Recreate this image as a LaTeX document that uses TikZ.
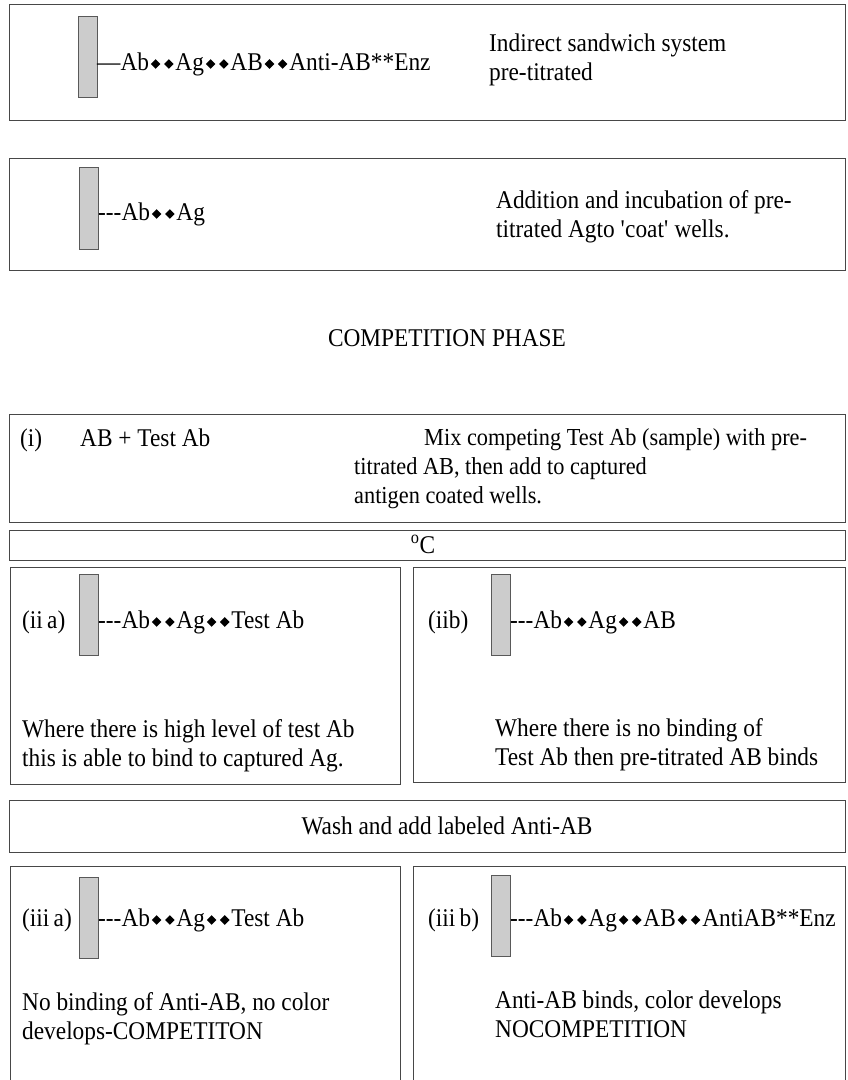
\documentclass[tikz,border=0pt]{standalone}
\usepackage{fontspec}
\setmainfont{Liberation Serif}[FakeStretch=0.915]
\newcommand{\dm}{\hspace{1.8pt}\raisebox{1.2pt}{\rotatebox{45}{\rule{6.8pt}{6.8pt}}}\hspace{1.8pt}}
\begin{document}
\begin{tikzpicture}[x=1pt,y=-1pt,
  panel/.style={draw=black!72, line width=0.9pt},
  well/.style={draw=black!65, fill=black!20, line width=0.8pt},
  txt/.style={anchor=base west, inner sep=0pt, align=left, font=\fontsize{25.5}{29}\selectfont},
  ctxt/.style={anchor=base, inner sep=0pt, font=\fontsize{25.5}{29}\selectfont},
  smalltxt/.style={txt, font=\fontsize{24.4}{29}\selectfont}]
\useasboundingbox (0,0) rectangle (847,1080);
\fill[white] (0,0) rectangle (847,1080);

% outer panels
\draw[panel] (9,4) rectangle (845,120) coordinate (p1);
\draw[panel] (9,158) rectangle (845,270) coordinate (p2);
\draw[panel] (9,414) rectangle (845,522) coordinate (p3);
\draw[panel] (9,530) rectangle (845,560) coordinate (p4);
\draw[panel] (10,567) rectangle (400,784) coordinate (p5);
\draw[panel] (413,567) rectangle (845,782) coordinate (p6);
\draw[panel] (9,800) rectangle (845,852) coordinate (p7);
\draw[panel] (10,866) rectangle (400,1095) coordinate (p8);
\draw[panel] (413,866) rectangle (845,1095) coordinate (p9);

% coated wells
\draw[well] (78,16) rectangle (97,97) coordinate (w1);
\draw[well] (79,167) rectangle (98,249) coordinate (w2);
\draw[well] (79,574) rectangle (98,655) coordinate (w3);
\draw[well] (491,574) rectangle (510,655) coordinate (w4);
\draw[well] (79,877) rectangle (98,958) coordinate (w5);
\draw[well] (491,875) rectangle (510,956) coordinate (w6);

% (multi-line nodes are placed by the baseline of their last line)

% sandwich system
\node[txt] (c1) at (97,70) {\textemdash Ab\dm\dm Ag\dm\dm AB\dm\dm Anti-AB**Enz};
\node[txt] (t1) at (489,80) {Indirect sandwich system\\pre-titrated};

% coating
\node[txt] (c2) at (98,220) {-{}-{}-Ab\dm\dm Ag};
\node[txt] (t2) at (496,237) {Addition and incubation of pre-\\titrated Agto \textquotesingle coat\textquotesingle\ wells.};

\node[ctxt] (title) at (447,346) {COMPETITION PHASE};

% step (i)
\node[txt] (i) at (20,446) {(i)};
\node[txt] (mix) at (80,446) {AB + Test Ab};
\node[smalltxt] (t3a) at (424,445) {Mix competing Test Ab (sample) with pre-};
\node[smalltxt] (t3b) at (354,503) {titrated AB, then add to captured\\antigen coated wells.};

\node[ctxt] (temp) at (423,553) {\textsuperscript{o}C};

% step (ii)
\node[txt] (iia) at (22,628) {(ii\,a)};
\node[txt] (c3) at (98,628) {-{}-{}-Ab\dm\dm Ag\dm\dm Test Ab};
\node[txt] (iib) at (428,628) {(iib)};
\node[txt] (c4) at (510,628) {-{}-{}-Ab\dm\dm Ag\dm\dm AB};
\node[txt] (t4) at (22,766) {Where there is high level of test Ab\\this is able to bind to captured Ag.};
\node[txt] (t5) at (495,765) {Where there is no binding of\\Test Ab then pre-titrated AB binds};

\node[ctxt] (wash) at (447,834) {Wash and add labeled Anti-AB};

% step (iii)
\node[txt] (iiia) at (22,926) {(iii\,a)};
\node[txt] (c5) at (98,926) {-{}-{}-Ab\dm\dm Ag\dm\dm Test Ab};
\node[txt] (iiib) at (428,926) {(iii\,b)};
\node[txt] (c6) at (510,926) {-{}-{}-Ab\dm\dm Ag\dm\dm AB\dm\dm AntiAB**Enz};
\node[txt] (t6) at (22,1039) {No binding of Anti-AB, no color\\develops-COMPETITON};
\node[txt] (t7) at (495,1037) {Anti-AB binds, color develops\\NOCOMPETITION};
\end{tikzpicture}
\end{document}
